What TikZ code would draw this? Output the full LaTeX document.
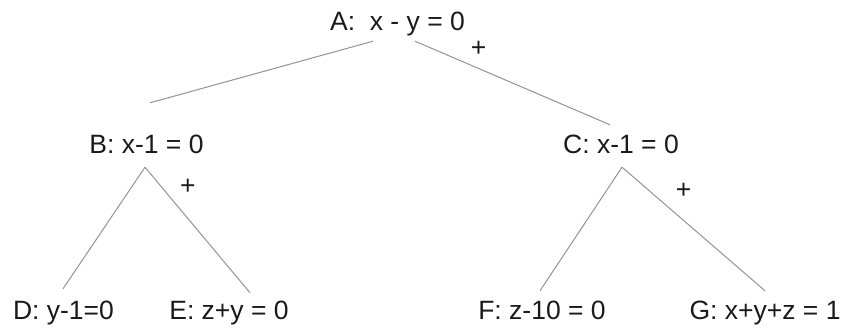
\documentclass[tikz,border=0pt]{standalone}
\usepackage{fontspec}
\setmainfont{Liberation Sans}
\usepackage{tikz}
\usepackage{xcolor}
\usetikzlibrary{positioning,calc}
\definecolor{ink}{HTML}{1A1A1A}
\definecolor{linegray}{HTML}{939393}
\tikzset{
  eqn/.style={font=\fontsize{26.5}{31}\selectfont,text=ink,
              text height=19pt,text depth=0pt,inner xsep=0pt,inner ysep=10.5pt},
  plus/.style={font=\fontsize{26.5}{31}\selectfont,text=ink,inner sep=0pt},
  branch/.style={draw=linegray,line width=1pt}
}
\begin{document}
\begin{tikzpicture}[x=1pt,y=1pt]
    \path[use as bounding box] (0,0) rectangle (846,327);
    \node[eqn] (A) at (397.5,306) {A:\ \ x - y = 0};

    \node[eqn] (B) at (146.5,183) {B: x-1 = 0};
    \node[eqn] (C) at (621,183) {C: x-1 = 0};

    \node[eqn] (D) at (63.5,17) {D: y-1=0};
    \node[eqn] (E) at (229,17) {E: z+y = 0};
    \node[eqn] (F) at (542,17) {F: z-10 = 0};
    \node[eqn] (G) at (765,17) {G: x+y+z = 1};

    \draw[branch] ([xshift=-24.5pt]A.south) -- ([shift={(3.5pt,21pt)}]B.north);
    \draw[branch] ([xshift=17.5pt]A.south) --
      node[plus,pos=.29,xshift=7pt,yshift=16.5pt] {+}
      ([shift={(-11pt,-1pt)}]C.north);

    \draw[branch] ([xshift=-1.5pt,yshift=-3pt]B.south) -- ([xshift=-0.5pt,yshift=1pt]D.north);
    \draw[branch] ([xshift=-1.5pt,yshift=-3pt]B.south) --
      node[plus,pos=.26,xshift=15.5pt,yshift=13pt] {+}
      ([xshift=21pt,yshift=-3pt]E.north);

    \draw[branch] ([xshift=1pt,yshift=-3pt]C.south) -- ([xshift=-2pt,yshift=-1pt]F.north);
    \draw[branch] ([xshift=1pt,yshift=-3pt]C.south) --
      node[plus,pos=.33,xshift=14.5pt,yshift=17pt] {+}
      ([yshift=-1pt]G.north);
  \end{tikzpicture}
\end{document}
